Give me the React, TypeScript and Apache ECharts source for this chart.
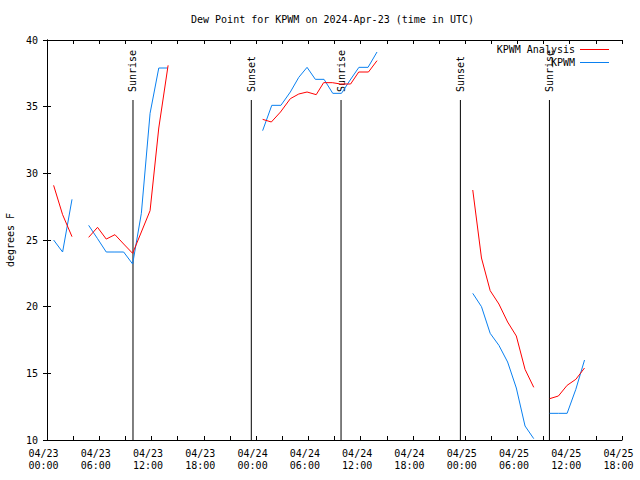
import React, { useEffect, useRef } from "react";
import * as echarts from "echarts";

// hours since 04/23 00:00 UTC; null marks a gap
const analysisHours = [0.76, 1.79, 2.87, 3.8, 4.78, 5.8, 6.8, 7.8, 8.8, 9.83, 10.83, 11.83, 12.83, 13.9, 19, 24.75, 25.75, 26.8, 27.93, 28.9, 29.85, 30.9, 31.75, 32.75, 33.7, 34.85, 35.78, 36.9, 37.88, 43, 48.87, 49.87, 50.87, 51.87, 52.87, 53.87, 54.87, 55.87, 56.8, 57.7, 58.7, 59.7, 60.7, 61.7];
const analysisValues = [29.1, 26.9, 25.25, null, 25.2, 25.95, 25.07, 25.4, 24.7, 24.0, 25.6, 27.2, 33.4, 38.1, null, 34.05, 33.85, 34.6, 35.6, 35.95, 36.1, 35.9, 36.8, 36.8, 36.7, 36.7, 37.6, 37.6, 38.45, null, 28.75, 23.65, 21.2, 20.2, 18.85, 17.8, 15.3, 13.95, null, 13.1, 13.3, 14.1, 14.55, 15.4];

const obsHours = [0.76, 1.79, 2.87, 3.8, 4.78, 5.8, 6.8, 7.8, 8.8, 9.83, 10.83, 11.83, 12.83, 13.85, 19, 24.75, 25.8, 26.85, 27.93, 28.9, 29.85, 30.8, 31.8, 32.8, 33.8, 34.8, 35.8, 36.85, 37.88, 43, 48.87, 49.87, 50.87, 51.87, 52.87, 53.87, 54.87, 55.87, 56.8, 57.7, 58.7, 59.7, 60.7, 61.7];
const obsValues = [25.0, 24.1, 28.05, null, 26.1, 25.1, 24.1, 24.1, 24.1, 23.2, 27.0, 34.5, 37.9, 37.9, null, 33.2, 35.1, 35.1, 36.1, 37.2, 37.95, 37.05, 37.05, 36.0, 36.0, 37.0, 37.95, 37.95, 39.1, null, 21.0, 20.0, 18.0, 17.1, 15.85, 13.9, 11.05, 10.1, null, 12.0, 12.0, 12.0, 13.8, 16.0];

const sunHours = [9.87, 23.45, 33.75, 47.45, 57.67];
const sunNames = ["Sunrise", "Sunset", "Sunrise", "Sunset", "Sunrise"];

const yTicks = { min: 10, max: 40, interval: 5 };
const xRange = { min: 0, max: 66, interval: 3 };
const startDay = 23;

const FONT = "DejaVu Sans Mono";

function fmtX(v: number): string {
  if (Math.round(v) % 6 !== 0) return "";
  const day = Math.floor(v / 24);
  const hr = Math.round(v - day * 24);
  const dd = String(startDay + day).padStart(2, "0");
  const hh = String(hr).padStart(2, "0");
  return "04/" + dd + "\n" + hh + ":00";
}

export default function App() {
  const ref = useRef<HTMLDivElement>(null);
  useEffect(() => {
    if (!ref.current) return;
    const chart = echarts.init(ref.current, undefined, { renderer: "svg" });
    const pair = (hs: number[], vs: (number | null)[]) => hs.map((h, i) => [h, vs[i]]);
    const axisCommon = {
      axisLine: { show: true, lineStyle: { color: "#000", width: 1 } },
      axisTick: { show: true, inside: true, length: 4, lineStyle: { color: "#000" } },
      splitLine: { show: false },
    };
    chart.setOption({
      animation: false,
      backgroundColor: "#fff",
      title: {
        text: "Dew Point for KPWM on 2024-Apr-23 (time in UTC)",
        left: 191,
        top: 14,
        padding: 0,
        textStyle: { fontFamily: FONT, fontSize: 10, fontWeight: "normal", color: "#000" },
      },
      legend: {
        orient: "vertical",
        right: 31,
        top: 43,
        padding: 0,
        itemGap: 0,
        align: "right",
        itemWidth: 29,
        itemHeight: 1,
        icon: "rect",
        textStyle: { fontFamily: FONT, fontSize: 10, color: "#000", lineHeight: 13 },
        data: ["KPWM Analysis", "KPWM"],
      },
      grid: { left: 47, right: 18, top: 40, bottom: 40, containLabel: false, outerBoundsMode: "none" },
      xAxis: [
        {
          type: "value",
          position: "bottom",
          min: xRange.min,
          max: xRange.max,
          interval: xRange.interval,
          ...axisCommon,
          axisLabel: {
            formatter: fmtX,
            fontFamily: FONT,
            fontSize: 10,
            color: "#000",
            margin: 7,
            lineHeight: 12,
            padding: [0, 7, 0, 0],
            showMinLabel: true,
            showMaxLabel: true,
          },
        },
        {
          type: "value",
          position: "top",
          min: xRange.min,
          max: xRange.max,
          interval: xRange.interval,
          ...axisCommon,
          axisLabel: { show: false },
        },
      ],
      yAxis: [
        {
          type: "value",
          position: "left",
          min: yTicks.min,
          max: yTicks.max,
          interval: yTicks.interval,
          ...axisCommon,
          name: "degrees F",
          nameLocation: "middle",
          nameGap: 32,
          nameRotate: 90,
          nameTextStyle: { fontFamily: FONT, fontSize: 10, color: "#000" },
          axisLabel: { fontFamily: FONT, fontSize: 10, color: "#000", margin: 9 },
        },
        {
          type: "value",
          position: "right",
          min: yTicks.min,
          max: yTicks.max,
          interval: yTicks.interval,
          ...axisCommon,
          axisLabel: { show: false },
        },
      ],
      series: [
        {
          name: "sun",
          type: "custom",
          xAxisIndex: 0,
          yAxisIndex: 0,
          data: sunHours.map((h, i) => [h, i]),
          renderItem: (params: any, api: any) => {
            const idx = api.value(1);
            const x = api.coord([api.value(0), yTicks.min])[0];
            const yb = api.coord([api.value(0), yTicks.min])[1];
            const yt = api.coord([api.value(0), 35.5])[1];
            return {
              type: "group",
              children: [
                { type: "line", shape: { x1: x, y1: yb, x2: x, y2: yt }, style: { stroke: "#000", lineWidth: 1 } },
                {
                  type: "text",
                  x: x,
                  y: yt - 8,
                  rotation: Math.PI / 2,
                  style: {
                    text: sunNames[idx],
                    font: "10px " + FONT,
                    fill: "#000",
                    align: "left",
                    verticalAlign: "middle",
                  },
                },
              ],
            };
          },
          z: 1,
        },
        {
          name: "KPWM Analysis",
          type: "line",
          data: pair(analysisHours, analysisValues),
          symbol: "none",
          connectNulls: false,
          lineStyle: { color: "#ff0000", width: 1 },
          itemStyle: { color: "#ff0000" },
          z: 3,
        },
        {
          name: "KPWM",
          type: "line",
          data: pair(obsHours, obsValues),
          symbol: "none",
          connectNulls: false,
          lineStyle: { color: "#0a80f0", width: 1 },
          itemStyle: { color: "#0a80f0" },
          z: 2,
        },
      ],
    });
    return () => chart.dispose();
  }, []);
  return (
    <div
      ref={ref}
      style={{ position: "fixed", left: 0, top: 0, width: 640, height: 480, background: "#fff" }}
    />
  );
}
